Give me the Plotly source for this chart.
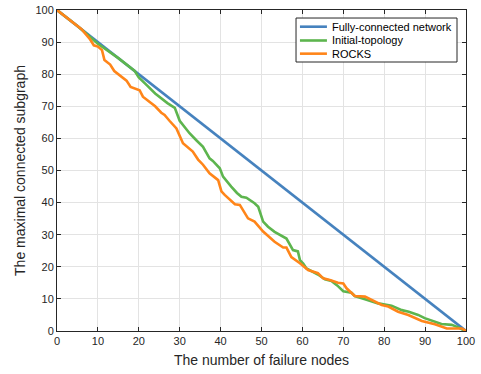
import plotly.graph_objects as go

# Fully-connected network
full_x = [0, 10, 20, 30, 40, 50, 60, 70, 80, 90, 100]
full_y = [100, 90, 80, 70, 60, 50, 40, 30, 20, 10, 0]

# Initial-topology
init_x = [0, 5, 10, 15, 19, 20, 22, 24, 27, 28.8, 30, 32.4, 34, 35.7, 37.3, 38.1,
          39.8, 40.6, 42.6, 44, 45.1, 46.3, 48.3, 49.2, 50.4, 51.6, 53.2, 54.9, 56.1,
          57.7, 58.9, 59.4, 60.2, 61, 62, 63.8, 65.5, 67.1, 68.5, 70, 72, 72.8, 75.3,
          78.5, 81.8, 84.3, 86, 88.3, 89.9, 92, 94, 96.5, 98, 99.3, 100]
init_y = [100, 95, 89.5, 85, 81, 79, 76.5, 74, 71, 69.5, 65.5, 61.6, 59.5, 57.4, 53.8, 53,
          50.7, 48.1, 45, 43, 41.8, 41.5, 39.8, 38.7, 34.1, 32.5, 30.9, 29.6, 28.8,
          25.2, 24.8, 22.1, 21, 19.5, 18.8, 17.6, 16.1, 15.6, 14.2, 12.4, 11.9, 10.9, 9.9,
          8.6, 7.9, 6.5, 6, 5, 4, 3, 2.2, 1.9, 1.2, 0.3, 0]

# ROCKS
rocks_x = [0, 5, 6, 8, 9, 10, 11, 11.6, 13, 14, 15.7, 17, 18, 20.2, 21, 22, 23, 24,
           25.5, 26.3, 27.5, 29.2, 30.8, 33.2, 34.5, 35.7, 37.3, 38, 39.4, 40.2, 41,
           43.5, 44.7, 46.7, 48.3, 50.4, 52, 53.2, 55.3, 56.1, 57.3, 59.4, 61.4, 63.8,
           65.1, 66.7, 68.7, 70, 70.8, 72, 72.8, 75.3, 76.9, 79.4, 81, 83.4, 85.9,
           89.2, 92.4, 95.3, 99, 100]
rocks_y = [100, 95, 94, 91, 89, 88.6, 87.5, 84.4, 83, 81, 79.2, 78, 76, 75, 73, 72, 71, 70,
           68, 67.3, 65.5, 63.1, 58.5, 55.9, 53.4, 51.8, 49.1, 48.4, 47, 43.5, 42.4,
           39.5, 39.3, 35.1, 34.1, 31, 29.3, 27.8, 26, 26, 23, 21.1, 19, 18,
           16.4, 15.9, 15, 14.8, 13.3, 11.8, 10.9, 10.7, 9.7, 8.1, 7.6, 6, 5,
           3.1, 2.1, 0.8, 0.8, 0]

names = ["Fully-connected network", "Initial-topology", "ROCKS"]
colors = ["#4682BE", "#5DB54E", "#FF8519"]

fig = go.Figure()
for xs, ys, nm, c in zip([full_x, init_x, rocks_x], [full_y, init_y, rocks_y], names, colors):
    fig.add_trace(go.Scatter(x=xs, y=ys, mode="lines", name=nm,
                             line=dict(color=c, width=2.6), showlegend=False))

axis_common = dict(
    showgrid=True, gridcolor="#E3E3E3", gridwidth=1,
    showline=True, linecolor="#262626", linewidth=1, mirror="ticks",
    ticks="inside", ticklen=4, tickcolor="#262626",
    tickfont=dict(family="Liberation Sans, Arial", size=11, color="#262626"),
    zeroline=False, dtick=10, range=[0, 100], automargin=False,
)

# custom compact legend (MATLAB style)
shapes = [dict(type="rect", xref="paper", yref="paper", x0=0.5844, x1=0.978,
               y0=0.838, y1=0.975, line=dict(color="#262626", width=1),
               fillcolor="white", layer="above")]
annotations = []
ly = [0.948, 0.905, 0.864]
for nm, c, y in zip(names, colors, ly):
    shapes.append(dict(type="line", xref="paper", yref="paper", x0=0.594, x1=0.660,
                       y0=y, y1=y, line=dict(color=c, width=2.6), layer="above"))
    annotations.append(dict(xref="paper", yref="paper", x=0.667, y=y, text=nm,
                            showarrow=False, xanchor="left", yanchor="middle",
                            font=dict(family="Liberation Sans, Arial", size=11,
                                      color="#000000")))

fig.update_layout(
    width=481, height=374,
    margin=dict(l=57, r=15, t=10, b=43),
    paper_bgcolor="white", plot_bgcolor="white",
    font=dict(family="Liberation Sans, Arial", color="#262626"),
    xaxis=dict(**axis_common,
               title=dict(text="The number of failure nodes",
                          font=dict(size=14, color="#262626"), standoff=8)),
    yaxis=dict(**axis_common,
               title=dict(text="The maximal connected subgraph",
                          font=dict(size=14, color="#262626"), standoff=6)),
    shapes=shapes, annotations=annotations,
    showlegend=False,
)

fig.write_html("out.html")
